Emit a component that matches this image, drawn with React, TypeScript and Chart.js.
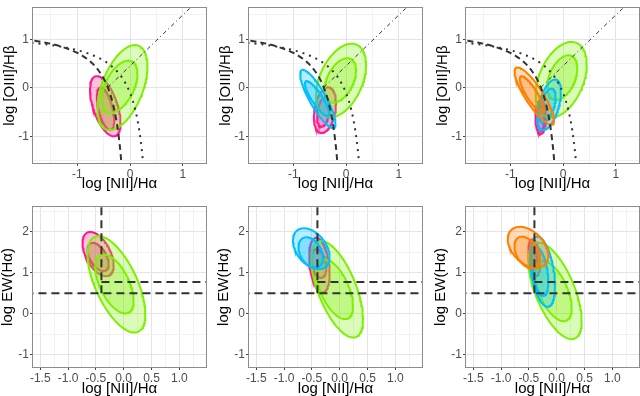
import React, { useEffect, useRef } from "react";
import { Chart, registerables } from "chart.js";
Chart.register(...registerables);

type Ell = [number, number, number, number, number]; // cx, cy, half-width x, half-height y, correlation

// ---- Axis ticks ----
const BPT_X_MAJOR = [-1, 0, 1];
const BPT_X_MINOR = [-1.5, -0.5, 0.5];
const BPT_Y_MAJOR = [-1, 0, 1];
const BPT_Y_MINOR = [-1.5, -0.5, 0.5, 1.5];
const WHAN_X_MAJOR = [-1.5, -1.0, -0.5, 0, 0.5, 1.0];
const WHAN_X_MINOR = [-1.25, -0.75, -0.25, 0.25, 0.75, 1.25];
const WHAN_Y_MAJOR = [-1, 0, 1, 2];
const WHAN_Y_MINOR = [-0.5, 0.5, 1.5, 2.5];
const BPT_X_RANGE = [-1.84, 1.44];
const BPT_Y_RANGE = [-1.55, 1.64];
const WHAN_X_RANGE = [-1.63, 1.48];
const WHAN_Y_RANGE = [-1.3, 2.61];

// ---- Demarcation lines (BPT) ----
const KAUFFMANN_X = [-2.0, -1.6, -1.3, -1.0, -0.9, -0.8, -0.7, -0.6, -0.5, -0.45, -0.4, -0.35, -0.3, -0.25, -0.22, -0.2, -0.18, -0.15];
const KAUFFMANN_Y = [1.0, 0.93, 0.848, 0.719, 0.658, 0.582, 0.487, 0.362, 0.191, 0.08, -0.056, -0.225, -0.443, -0.733, -0.959, -1.14, -1.352, -1.75];
const KEWLEY_X = [-2.0, -1.5, -1.2, -1.0, -0.8, -0.6, -0.4, -0.3, -0.2, -0.1, 0.0, 0.05, 0.1, 0.15, 0.2, 0.225, 0.25, 0.27];
const KEWLEY_Y = [0.943, 0.88, 0.825, 0.775, 0.71, 0.62, 0.489, 0.398, 0.28, 0.12, -0.108, -0.262, -0.459, -0.716, -1.069, -1.3, -1.583, -1.86];
const SEYFERT_X = [-0.422, 1.3];
const SEYFERT_Y = [0.007, 1.815];

// ---- Demarcation lines (WHAN) ----
const WHAN_VERT_X = [-0.4, -0.4];
const WHAN_VERT_Y = [0.5, 3.0];
const WHAN_LOW_X = [-2.0, 2.0];
const WHAN_LOW_Y = [0.5, 0.5];
const WHAN_HIGH_X = [-0.4, 2.0];
const WHAN_HIGH_Y = [0.78, 0.78];

// ---- Confidence ellipses: [outer, inner] per group ----
const BPT1_PINK: Ell[] = [[-0.47, -0.38, 0.29, 0.62, -0.55], [-0.465, -0.43, 0.165, 0.44, -0.55]];
const BPT1_GREEN: Ell[] = [[-0.145, 0.005, 0.475, 0.875, 0.5], [-0.2, 0.02, 0.34, 0.54, 0.5]];

const BPT2_PINK: Ell[] = [[-0.4, -0.46, 0.21, 0.47, 0.3], [-0.43, -0.5, 0.12, 0.3, 0.3]];
const BPT2_GREEN: Ell[] = [[-0.095, 0.15, 0.475, 0.76, 0.42], [-0.11, 0.15, 0.3, 0.46, 0.45]];
const BPT2_BLUE: Ell[] = [[-0.535, -0.23, 0.335, 0.6, -0.85], [-0.55, -0.22, 0.23, 0.36, -0.85]];

const BPT3_PINK: Ell[] = [[-0.425, -0.6, 0.1, 0.35, 0.0], [-0.42, -0.63, 0.065, 0.25, 0.0]];
const BPT3_GREEN: Ell[] = [[-0.035, 0.165, 0.485, 0.78, 0.4], [-0.015, 0.21, 0.285, 0.46, 0.42]];
const BPT3_BLUE: Ell[] = [[-0.265, -0.35, 0.225, 0.52, 0.5], [-0.3, -0.365, 0.16, 0.345, 0.5]];
const BPT3_ORANGE: Ell[] = [[-0.545, -0.17, 0.375, 0.59, -0.85], [-0.59, -0.135, 0.23, 0.375, -0.85]];

const WHAN1_PINK: Ell[] = [[-0.46, 1.46, 0.28, 0.54, -0.5], [-0.46, 1.39, 0.19, 0.345, -0.5]];
const WHAN1_GREEN: Ell[] = [[-0.13, 0.72, 0.52, 1.18, -0.62], [-0.165, 0.73, 0.345, 0.72, -0.56]];

const WHAN2_PINK: Ell[] = [[-0.365, 1.19, 0.185, 0.67, -0.3], [-0.375, 1.23, 0.135, 0.35, -0.3]];
const WHAN2_GREEN: Ell[] = [[-0.045, 0.6, 0.465, 1.18, -0.62], [-0.09, 0.6, 0.33, 0.73, -0.56]];
const WHAN2_BLUE: Ell[] = [[-0.51, 1.59, 0.33, 0.5, -0.4], [-0.52, 1.5, 0.22, 0.37, -0.35]];

const WHAN3_PINK: Ell[] = [[-0.405, 1.37, 0.105, 0.45, -0.3], [-0.41, 1.37, 0.06, 0.27, -0.3]];
const WHAN3_GREEN: Ell[] = [[-0.03, 0.56, 0.48, 1.18, -0.62], [-0.06, 0.555, 0.33, 0.735, -0.56]];
const WHAN3_BLUE: Ell[] = [[-0.255, 1.03, 0.225, 0.86, -0.4], [-0.3, 1.03, 0.15, 0.59, -0.4]];
const WHAN3_ORANGE: Ell[] = [[-0.515, 1.625, 0.365, 0.5, -0.4], [-0.53, 1.495, 0.23, 0.39, -0.4]];

// ---- Styles ----
const FONT = '"Liberation Sans", Arial, Helvetica, sans-serif';
const GROUP_STYLE: Record<string, { stroke: string; fill: string; order: number }> = {
  orange: { stroke: "#FF7F00", fill: "rgba(255,127,0,0.28)", order: 1 },
  blue: { stroke: "#00BFFF", fill: "rgba(0,191,255,0.28)", order: 2 },
  green: { stroke: "#7CF000", fill: "rgba(124,240,0,0.28)", order: 3 },
  pink: { stroke: "#FF1A8C", fill: "rgba(255,26,140,0.28)", order: 4 },
};
const LINE_COLOR = "#333333";

function zip(xs: number[], ys: number[]) {
  return xs.map((x, i) => ({ x, y: ys[i] }));
}

function ellipsePoints(e: Ell) {
  const [cx, cy, a, b, r] = e;
  const s = Math.sqrt(1 - r * r);
  const pts: { x: number; y: number }[] = [];
  const n = 120;
  for (let i = 0; i <= n; i++) {
    const t = (i / n) * 2 * Math.PI;
    pts.push({ x: cx + a * Math.cos(t), y: cy + b * (r * Math.cos(t) + s * Math.sin(t)) });
  }
  return pts;
}

function lineDs(xs: number[], ys: number[], width: number, dash: number[], smooth = false) {
  return {
    data: zip(xs, ys),
    showLine: true,
    borderColor: LINE_COLOR,
    borderWidth: width,
    borderDash: dash,
    pointRadius: 0,
    fill: false,
    order: 0,
    clip: 0,
    cubicInterpolationMode: smooth ? "monotone" : "default",
  };
}

function ellipseDs(groups: [string, Ell[]][]) {
  const out: any[] = [];
  groups.forEach(([g, ells]) => {
    const st = GROUP_STYLE[g];
    ells.forEach((e) => {
      out.push({
        data: ellipsePoints(e),
        showLine: true,
        borderColor: st.stroke,
        backgroundColor: st.fill,
        borderWidth: 2,
        pointRadius: 0,
        fill: "shape",
        order: st.order,
        clip: 0,
      });
    });
  });
  return out;
}

function axis(
  isX: boolean,
  range: number[],
  major: number[],
  minor: number[],
  fmt: (v: number) => string,
  title: string,
  fitSize: number,
  titlePad: number
) {
  const all = [...major, ...minor].sort((p, q) => p - q);
  const isMajor = (v: number) => major.some((m) => Math.abs(m - v) < 1e-9);
  return {
    type: "linear",
    position: isX ? "bottom" : "left",
    min: range[0],
    max: range[1],
    afterBuildTicks: (s: any) => {
      s.ticks = all.map((v) => ({ value: v }));
    },
    afterFit: (s: any) => {
      if (isX) s.height = fitSize;
      else s.width = fitSize;
    },
    ticks: {
      autoSkip: false,
      maxRotation: 0,
      minRotation: 0,
      padding: 1,
      color: "#4d4d4d",
      font: { family: FONT, size: 12 },
      callback: (v: number) => (isMajor(v) ? fmt(v) : ""),
    },
    grid: {
      color: (c: any) => (c.tick && isMajor(c.tick.value) ? "#e4e4e4" : "#f2f2f2"),
      lineWidth: 1,
      drawTicks: true,
      tickLength: 3,
      tickWidth: 1,
      tickColor: (c: any) => (c.tick && isMajor(c.tick.value) ? "#444444" : "rgba(0,0,0,0)"),
    },
    border: { display: false },
    title: {
      display: true,
      text: title,
      color: "#000000",
      font: { family: FONT, size: 15, lineHeight: 1 },
      padding: isX ? { top: 0, bottom: titlePad } : { top: titlePad, bottom: 0 },
    },
  };
}

const framePlugin = {
  id: "frame",
  afterDatasetsDraw(chart: any) {
    const { ctx, chartArea: a } = chart;
    ctx.save();
    ctx.strokeStyle = "#8c8c8c";
    ctx.lineWidth = 1;
    ctx.setLineDash([]);
    ctx.strokeRect(Math.round(a.left) - 0.5, Math.round(a.top) - 0.5, Math.round(a.right - a.left) + 1, Math.round(a.bottom - a.top) + 1);
    ctx.restore();
  },
};

type Spec = {
  kind: "bpt" | "whan";
  left: number;
  top: number;
  w: number;
  h: number;
  groups: [string, Ell[]][];
};

const COL_LEFT = [0, 216, 433];
const CANVAS_W = 207;

const SPECS: Spec[] = [
  { kind: "bpt", left: COL_LEFT[0], top: 0, w: CANVAS_W, h: 196, groups: [["pink", BPT1_PINK], ["green", BPT1_GREEN]] },
  { kind: "bpt", left: COL_LEFT[1], top: 0, w: CANVAS_W, h: 196, groups: [["pink", BPT2_PINK], ["green", BPT2_GREEN], ["blue", BPT2_BLUE]] },
  { kind: "bpt", left: COL_LEFT[2], top: 0, w: CANVAS_W, h: 196, groups: [["pink", BPT3_PINK], ["green", BPT3_GREEN], ["blue", BPT3_BLUE], ["orange", BPT3_ORANGE]] },
  { kind: "whan", left: COL_LEFT[0], top: 196, w: CANVAS_W, h: 200, groups: [["pink", WHAN1_PINK], ["green", WHAN1_GREEN]] },
  { kind: "whan", left: COL_LEFT[1], top: 196, w: CANVAS_W, h: 200, groups: [["pink", WHAN2_PINK], ["green", WHAN2_GREEN], ["blue", WHAN2_BLUE]] },
  { kind: "whan", left: COL_LEFT[2], top: 196, w: CANVAS_W, h: 200, groups: [["pink", WHAN3_PINK], ["green", WHAN3_GREEN], ["blue", WHAN3_BLUE], ["orange", WHAN3_ORANGE]] },
];

function buildConfig(spec: Spec): any {
  const bpt = spec.kind === "bpt";
  const lines = bpt
    ? [
        lineDs(KAUFFMANN_X, KAUFFMANN_Y, 2, [6, 4], true),
        lineDs(KEWLEY_X, KEWLEY_Y, 2, [2, 5], true),
        lineDs(SEYFERT_X, SEYFERT_Y, 1, [4, 3, 1, 3]),
      ]
    : [
        lineDs(WHAN_VERT_X, WHAN_VERT_Y, 2, [8, 5]),
        lineDs(WHAN_LOW_X, WHAN_LOW_Y, 2, [8, 5]),
        lineDs(WHAN_HIGH_X, WHAN_HIGH_Y, 2, [8, 5]),
      ];
  const datasets = [...lines, ...ellipseDs(spec.groups)];
  const xAxis = bpt
    ? axis(true, BPT_X_RANGE, BPT_X_MAJOR, BPT_X_MINOR, (v) => String(v), "log [NII]/Hα", 33, 4.5)
    : axis(true, WHAN_X_RANGE, WHAN_X_MAJOR, WHAN_X_MINOR, (v) => v.toFixed(1), "log [NII]/Hα", 29, 0);
  const yAxis = bpt
    ? axis(false, BPT_Y_RANGE, BPT_Y_MAJOR, BPT_Y_MINOR, (v) => String(v), "log [OIII]/Hβ", 33, 2)
    : axis(false, WHAN_Y_RANGE, WHAN_Y_MAJOR, WHAN_Y_MINOR, (v) => String(v), "log EW(Hα)", 33, 0.5);
  return {
    type: "scatter",
    data: { datasets },
    options: {
      animation: false,
      responsive: false,
      maintainAspectRatio: false,
      events: [],
      layout: { padding: { top: bpt ? 1 : 11, right: 1, left: 0, bottom: 0 } },
      plugins: { legend: { display: false }, tooltip: { enabled: false } },
      scales: { x: xAxis, y: yAxis },
    },
    plugins: [framePlugin],
  };
}

function Panel({ spec }: { spec: Spec }) {
  const ref = useRef<HTMLCanvasElement>(null);
  useEffect(() => {
    const chart = new Chart(ref.current as HTMLCanvasElement, buildConfig(spec));
    return () => chart.destroy();
  }, [spec]);
  return (
    <canvas
      ref={ref}
      width={spec.w}
      height={spec.h}
      style={{ position: "absolute", left: spec.left, top: spec.top, width: spec.w, height: spec.h }}
    />
  );
}

export default function App() {
  return (
    <div style={{ position: "fixed", left: 0, top: 0, width: 640, height: 396, background: "#ffffff", overflow: "hidden" }}>
      {SPECS.map((s, i) => (
        <Panel key={i} spec={s} />
      ))}
    </div>
  );
}
